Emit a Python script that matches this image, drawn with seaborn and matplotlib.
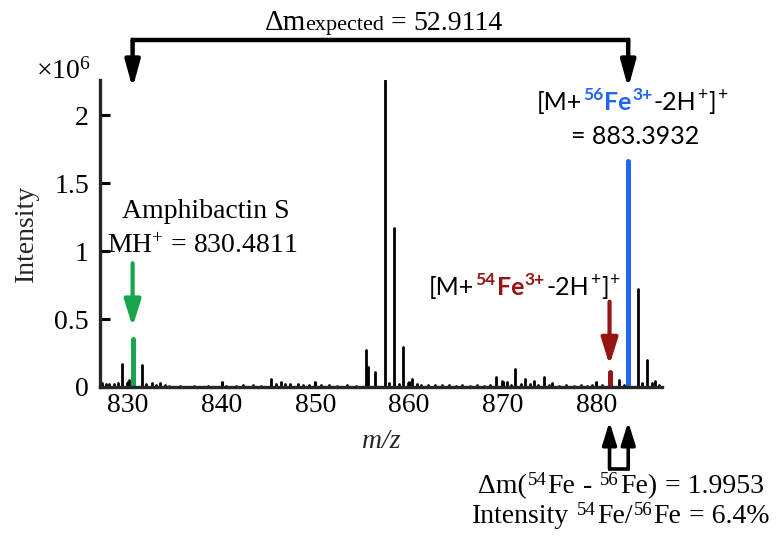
import matplotlib
matplotlib.use("Agg")
import matplotlib.pyplot as plt
import matplotlib.transforms as mtransforms
import pandas as pd
import seaborn as sns

# black peaks of the spectrum (m/z, intensity x 1e6)
peak_mz = [827.2, 827.6, 828.0, 828.5, 828.9, 829.40, 829.9, 830.1, 831.45, 831.9,
           832.5, 833.0, 833.4, 833.9, 834.4, 835.5, 837.0, 838.5, 840.0, 840.5,
           841.5, 842.3, 843.3, 844.2, 845.3, 845.8, 846.3, 846.8, 847.3, 848.1,
           848.7, 849.3, 850.0, 850.6, 851.5, 852.3, 853.4, 854.3, 855.37, 855.61,
           856.35, 857.42, 857.9, 858.42, 858.9, 859.4, 859.9, 860.3, 860.8, 861.3,
           862.0, 862.8, 863.5, 864.3, 865.0, 865.7, 866.5, 867.3, 868.0, 868.6,
           869.3, 869.9, 870.4, 870.9, 871.35, 871.9, 872.4, 872.9, 873.3, 873.8,
           874.4, 874.9, 875.3, 876.0, 876.8, 877.6, 878.3, 879.0, 879.5, 880.0,
           880.6, 882.4, 882.9, 884.42, 884.9, 885.35, 885.9, 886.3, 886.7]
peak_int = [0.03, 0.02, 0.02, 0.025, 0.03, 0.166, 0.03, 0.05, 0.159, 0.02,
            0.03, 0.015, 0.03, 0.015, 0.01, 0.008, 0.006, 0.008, 0.03, 0.01,
            0.008, 0.015, 0.015, 0.008, 0.06, 0.025, 0.035, 0.02, 0.02, 0.02,
            0.015, 0.012, 0.03, 0.012, 0.015, 0.01, 0.015, 0.01, 0.27, 0.15,
            0.11, 2.257, 0.03, 1.174, 0.02, 0.293, 0.03, 0.06, 0.02, 0.015,
            0.012, 0.015, 0.012, 0.015, 0.01, 0.012, 0.01, 0.012, 0.01, 0.015,
            0.07, 0.045, 0.035, 0.015, 0.13, 0.02, 0.06, 0.02, 0.045, 0.015,
            0.07, 0.015, 0.03, 0.01, 0.012, 0.01, 0.012, 0.01, 0.015, 0.03,
            0.015, 0.05, 0.015, 0.72, 0.03, 0.20, 0.03, 0.045, 0.015]

# highlighted ions
ion_names = ["Amphibactin S", "54Fe", "56Fe"]
ion_mz = [830.4811, 881.3979, 883.3932]
ion_int = [0.357, 0.112, 1.663]
ion_colors = ["#17a64b", "#961414", "#1f66f0"]

x_ticks = [830, 840, 850, 860, 870, 880]
y_ticks = [0, 0.5, 1, 1.5, 2]
y_tick_labels = ["0", "0.5", "1", "1.5", "2"]

sns.set_style("ticks")
plt.rcParams["font.family"] = ["Liberation Serif", "DejaVu Serif"]
plt.rcParams["mathtext.fontset"] = "custom"
plt.rcParams["mathtext.rm"] = "Liberation Serif"
plt.rcParams["mathtext.it"] = "Liberation Serif:italic"
plt.rcParams["mathtext.bf"] = "Liberation Serif:bold"

SERIF = dict(family="Liberation Serif", fontsize=20, color="black")
SERIF_SUP = dict(family="Liberation Serif", fontsize=13.5, color="black")
SANS = dict(family="Lato", fontsize=18, color="black")
SANS_SUP = dict(family="Lato", fontsize=12.5, color="black")


def stick_frame(xs, ys, names=None):
    rows = []
    for i, (x, y) in enumerate(zip(xs, ys)):
        name = names[i] if names else "peak"
        rows.append({"mz": x, "intensity": 0.0, "peak": i, "ion": name})
        rows.append({"mz": x, "intensity": y, "peak": i, "ion": name})
    return pd.DataFrame(rows)


def rich_text(ax, x, y, pieces, ha="center"):
    # pieces (text, props, raise pt, gap before pt) drawn on one baseline
    fig = ax.figure
    renderer = fig.canvas.get_renderer()
    arts, widths = [], []
    for s, kw, dy, gap in pieces:
        t = ax.text(x, y, s, va="baseline", ha="left", **kw)
        arts.append((t, dy, gap * fig.dpi / 72))
        widths.append(t.get_window_extent(renderer).width + 1 + gap * fig.dpi / 72)
    total = sum(widths)
    off = {"left": 0.0, "center": -total / 2, "right": -total}[ha]
    for (t, dy, gap), w in zip(arts, widths):
        t.set_transform(ax.transData + mtransforms.ScaledTranslation(
            (off + gap) / fig.dpi, dy / 72, fig.dpi_scale_trans))
        off += w


def arrow(ax, x, y_from, y_to, color, lw=3, scale=20, width=0.3):
    ax.annotate("", xy=(x, y_to), xytext=(x, y_from), annotation_clip=False,
                arrowprops=dict(arrowstyle=f"-|>,head_length=0.8,head_width={width}",
                                color=color, lw=lw, shrinkA=0, shrinkB=0,
                                mutation_scale=scale))


def fe_label(ax, x, y, isotope, color):
    bold = dict(SANS, color=color, fontweight="bold")
    bold_sup = dict(SANS_SUP, color=color, fontweight="bold")
    rich_text(ax, x, y, [
        ("[M+", SANS, 0, 0),
        (isotope, bold_sup, 7, 0),
        ("Fe", bold, 0, 0),
        ("3+", bold_sup, 7, 0),
        ("-2H", SANS, 0, 0),
        ("+", SANS_SUP, 7, 0),
        ("]", SANS, 0, 0),
        ("+", SANS_SUP, 7, 0),
    ])


fig = plt.figure(figsize=(7.8, 5.42), dpi=100)
ax = fig.add_axes([100 / 780, 1 - 387 / 542, 562 / 780, 307 / 542])

sns.lineplot(data=stick_frame(peak_mz, peak_int), x="mz", y="intensity",
             units="peak", estimator=None, color="black", lw=2.0, ax=ax)
sns.lineplot(data=stick_frame(ion_mz, ion_int, ion_names), x="mz", y="intensity",
             units="peak", estimator=None, hue="ion",
             palette=dict(zip(ion_names, ion_colors)), lw=3.6, legend=False, ax=ax)

ax.set_xlim(827, 887)
ax.set_ylim(0, 2.26)
ax.set_xticks(x_ticks)
ax.set_yticks(y_ticks)
ax.set_yticklabels(y_tick_labels)
sns.despine(ax=ax)
for side in ("left", "bottom"):
    ax.spines[side].set_linewidth(2.4)
ax.tick_params(axis="both", direction="in", width=2.2, labelsize=20,
               colors="black")
ax.tick_params(axis="y", length=7, pad=8)
ax.tick_params(axis="x", length=4, pad=4)
ax.set_xlabel("m/z", fontstyle="italic", fontsize=20, labelpad=8)
ax.set_ylabel("Intensity", fontsize=20, labelpad=11)

ax.text(820.2, 2.273, r"$\times$10$^{6}$", va="baseline", ha="left", **SERIF)

# expected mass difference bracket
amph, fe54, fe56 = ion_mz
ax.plot([amph, fe56], [2.555, 2.555], color="black", lw=3.2, clip_on=False,
        solid_capstyle="projecting")
arrow(ax, amph, 2.555, 2.20, "black", lw=3.2, width=0.22)
arrow(ax, fe56, 2.555, 2.20, "black", lw=3.2, width=0.22)
rich_text(ax, 857.3, 2.63, [
    ("\u0394m", dict(SERIF, fontsize=21), 0, 0),
    ("expected", dict(SERIF, fontsize=16), -0.5, -1),
    ("=", SERIF, 0, 4),
    ("52.9114", SERIF, 0, 4),
])

# Amphibactin S
ax.text(829.31, 1.242, "Amphibactin S", va="baseline", ha="left", **SERIF)
ax.text(827.71, 0.985, r"MH$^{+}$ = 830.4811", va="baseline", ha="left", **SERIF)
arrow(ax, amph, 0.911, 0.444, ion_colors[0], lw=3, width=0.25)

# 56Fe complex
fe_label(ax, 883.86, 2.04, "56", ion_colors[2])
ax.text(884.12, 1.787, "= 883.3932", va="baseline", ha="center", **SANS)

# 54Fe complex
fe_label(ax, 872.36, 0.677, "54", ion_colors[1])
arrow(ax, fe54, 0.628, 0.162, ion_colors[1], lw=3, width=0.25)

# isotope pair below the axis
ax.plot([fe54, fe56], [-0.60, -0.60], color="black", lw=2.6, clip_on=False,
        solid_capstyle="projecting")
arrow(ax, fe54, -0.60, -0.256, "black", lw=2.6, scale=17, width=0.25)
arrow(ax, fe56, -0.60, -0.256, "black", lw=2.6, scale=17, width=0.25)
rich_text(ax, 882.65, -0.78, [
    ("\u0394m(", SERIF, 0, 0),
    ("54", SERIF_SUP, 6, 0),
    ("Fe", SERIF, 0, 0),
    ("-", SERIF, 0, 5),
    ("56", SERIF_SUP, 6, 5),
    ("Fe)", SERIF, 0, 0),
    ("= 1.9953", SERIF, 0, 5),
])
rich_text(ax, 882.65, -1.0, [
    ("Intensity", SERIF, 0, 0),
    ("54", SERIF_SUP, 6, 5),
    ("Fe/", SERIF, 0, 0),
    ("56", SERIF_SUP, 6, 0),
    ("Fe", SERIF, 0, 0),
    ("= 6.4%", SERIF, 0, 5),
])

fig.savefig("out.png", dpi=100)
